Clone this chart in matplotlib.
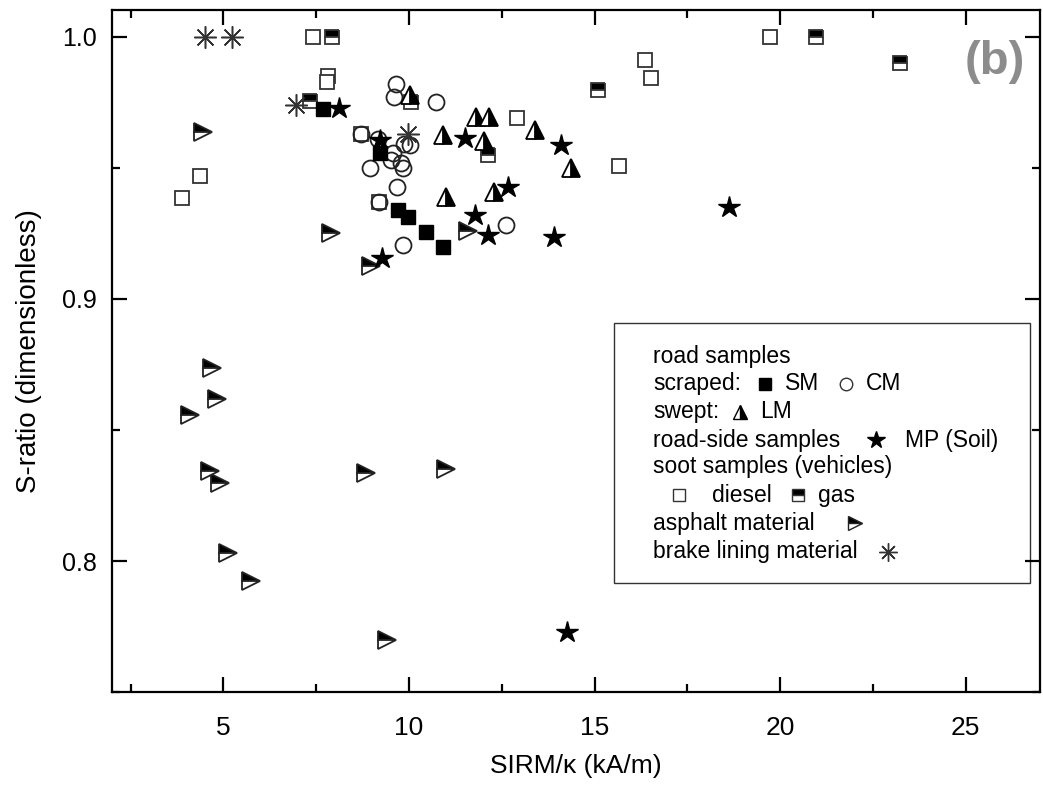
import matplotlib
matplotlib.use("Agg")
import matplotlib.pyplot as plt
from matplotlib.patches import Rectangle

plt.rcParams['font.family'] = ['Liberation Sans', 'DejaVu Sans']

# road samples, scraped: SM (filled squares)
sm_x = [7.69, 9.21, 9.70, 9.97, 10.46, 10.91]
sm_y = [0.9725, 0.9554, 0.9338, 0.9310, 0.9256, 0.9197]

# scraped: CM (open circles)
cm_x = [9.66, 9.61, 10.73, 8.72, 9.17, 9.57, 9.52, 9.79, 9.84, 10.02, 9.88, 8.94, 9.69, 9.19, 9.84, 12.62]
cm_y = [0.982, 0.977, 0.975, 0.963, 0.961, 0.9554, 0.953, 0.9516, 0.950, 0.9586, 0.959, 0.9497, 0.9427, 0.937, 0.9205, 0.928]

# swept: LM (half filled triangles)
lm_x = [10.02, 11.81, 12.17, 10.91, 12.03, 13.40, 14.38, 11.0, 12.28]
lm_y = [0.9776, 0.9693, 0.9693, 0.9624, 0.960, 0.9643, 0.950, 0.9389, 0.9408]

# road-side samples MP (soil, stars)
mp_x = [8.11, 9.21, 11.52, 14.11, 12.66, 11.77, 12.12, 13.9, 9.28, 18.63, 14.25]
mp_y = [0.9729, 0.9605, 0.9613, 0.9586, 0.9427, 0.932, 0.9243, 0.9237, 0.9157, 0.935, 0.773]

# soot samples: diesel
diesel_x = [7.42, 7.82, 7.78, 4.37, 3.88, 12.91, 16.35, 16.53, 15.67, 19.74, 8.72, 9.19]
diesel_y = [1.0, 0.985, 0.9826, 0.9468, 0.9385, 0.969, 0.991, 0.984, 0.9507, 1.0, 0.963, 0.937]

# soot samples: gas
gas_x = [7.94, 7.33, 10.06, 12.12, 15.09, 20.97, 23.24]
gas_y = [1.0, 0.9755, 0.975, 0.9548, 0.9797, 1.0, 0.990]

# asphalt material
asph_x = [4.46, 7.91, 11.59, 8.98, 4.69, 4.82, 4.10, 4.64, 4.91, 8.85, 11.0, 5.13, 5.74, 9.42]
asph_y = [0.9636, 0.925, 0.926, 0.9123, 0.8736, 0.8616, 0.8555, 0.8343, 0.8297, 0.8337, 0.8352, 0.803, 0.7925, 0.770]

# brake lining material
brake_x = [4.51, 5.22, 6.97, 9.97]
brake_y = [1.0, 1.0, 0.974, 0.963]

xticks = [5, 10, 15, 20, 25]
yticks = [0.8, 0.9, 1.0]

fig = plt.figure(figsize=(10.43, 7.91), dpi=100)
ax = fig.add_axes([0.1074, 0.125, 0.8896, 0.862])

ax.plot(diesel_x, diesel_y, 's', ms=10.5, mfc='white', mec='#333333', mew=1.3, ls='none')
ax.plot(cm_x, cm_y, 'o', ms=11.5, mfc='none', mec='#222222', mew=1.3, ls='none')
ax.plot(gas_x, gas_y, 's', ms=10.5, fillstyle='top', mfc='black', mfcalt='white', mec='#333333', mew=1.3, ls='none')
ax.plot(sm_x, sm_y, 's', ms=10.5, color='black', mec='black', ls='none')
ax.plot(lm_x, lm_y, '^', ms=13, fillstyle='right', mfc='black', mfcalt='white', mec='black', mew=1.3, ls='none')
ax.plot(asph_x, asph_y, '>', ms=13.5, fillstyle='top', mfc='black', mfcalt='white', mec='#222222', mew=1.3, ls='none')
ax.plot(mp_x, mp_y, '*', ms=16, color='black', ls='none')
ax.plot(brake_x, brake_y, marker=(8, 2, 0), ms=16, color='#333333', mew=1.1, ls='none')

ax.set_xlim(2, 27)
ax.set_ylim(0.75, 1.01)
ax.set_xticks(xticks)
ax.set_xticks([2.5, 7.5, 12.5, 17.5, 22.5], minor=True)
ax.set_yticks(yticks)
ax.set_yticks([0.75, 0.85, 0.95], minor=True)
ax.set_yticklabels(['0.8', '0.9', '1.0'])

ax.tick_params(which='both', direction='in', top=True, right=True, width=1.6)
ax.tick_params(which='major', length=10.5)
ax.tick_params(which='minor', length=5.5)
ax.tick_params(axis='x', pad=17, labelsize=19)
ax.tick_params(axis='y', pad=11, labelsize=18)
for sp in ax.spines.values():
    sp.set_linewidth(1.6)

ax.set_xlabel('SIRM/\u03ba (kA/m)', fontsize=19, labelpad=10)
ax.set_ylabel('S-ratio (dimensionless)', fontsize=20, labelpad=14)

ax.text(0.951, 0.924, '(b)', transform=ax.transAxes, fontsize=34, fontweight='bold',
        color='#8c8c8c', ha='center', va='center')

# legend box drawn by hand
ax.add_patch(Rectangle((0.541, 0.160), 0.448, 0.381, transform=ax.transAxes,
                       fill=False, ec='#333333', lw=1.0))

rows = [0.4917, 0.4526, 0.4110, 0.3695, 0.3304, 0.2889, 0.2474, 0.2057]
tx = 0.5833
fs = 16.5
ax.text(tx, rows[0], 'road samples', transform=ax.transAxes, fontsize=fs, va='center')
ax.text(tx, rows[1], 'scraped:', transform=ax.transAxes, fontsize=fs, va='center')
ax.text(tx, rows[2], 'swept:', transform=ax.transAxes, fontsize=fs, va='center')
ax.text(tx, rows[3], 'road-side samples', transform=ax.transAxes, fontsize=fs, va='center')
ax.text(tx, rows[4], 'soot samples (vehicles)', transform=ax.transAxes, fontsize=fs, va='center')
ax.text(tx, rows[6], 'asphalt material', transform=ax.transAxes, fontsize=fs, va='center')
ax.text(tx, rows[7], 'brake lining material', transform=ax.transAxes, fontsize=fs, va='center')
ax.text(0.7252, rows[1], 'SM', transform=ax.transAxes, fontsize=fs, va='center')
ax.text(0.8125, rows[1], 'CM', transform=ax.transAxes, fontsize=fs, va='center')
ax.text(0.699, rows[2], 'LM', transform=ax.transAxes, fontsize=fs, va='center')
ax.text(0.8545, rows[3], 'MP (Soil)', transform=ax.transAxes, fontsize=fs, va='center')
ax.text(0.6462, rows[5], 'diesel', transform=ax.transAxes, fontsize=fs, va='center')
ax.text(0.7611, rows[5], 'gas', transform=ax.transAxes, fontsize=fs, va='center')

kw = dict(transform=ax.transAxes, ls='none', clip_on=False)
ax.plot(0.7037, rows[1], 's', ms=8.5, color='black', **kw)
ax.plot(0.791, rows[1], 'o', ms=9, mfc='white', mec='#333333', mew=1.0, **kw)
ax.plot(0.6767, rows[2], '^', ms=10, fillstyle='right', mfc='black', mfcalt='white', mec='black', mew=1.0, **kw)
ax.plot(0.8233, rows[3], '*', ms=13, color='black', **kw)
ax.plot(0.6113, rows[5], 's', ms=8.5, mfc='white', mec='#333333', mew=1.0, **kw)
ax.plot(0.7392, rows[5], 's', ms=8.5, fillstyle='top', mfc='black', mfcalt='white', mec='#333333', mew=1.0, **kw)
ax.plot(0.8006, rows[6], '>', ms=10, fillstyle='top', mfc='black', mfcalt='white', mec='#222222', mew=1.0, **kw)
ax.plot(0.8362, rows[7], marker=(8, 2, 0), ms=13, color='#333333', mew=1.0, **kw)

fig.savefig('out.png', dpi=100)
